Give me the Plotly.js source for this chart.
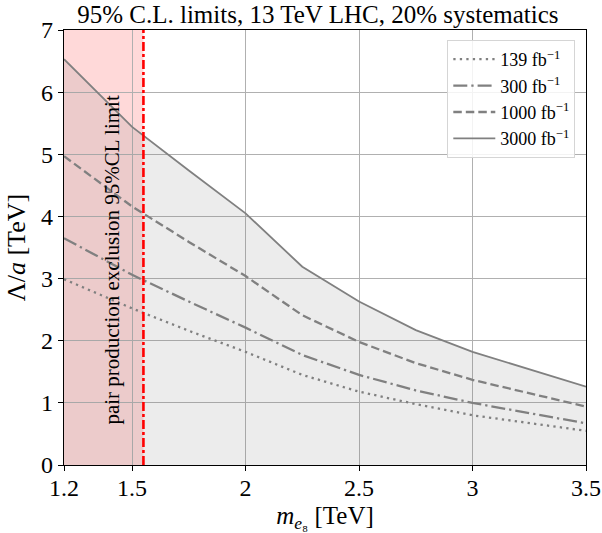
<!DOCTYPE html>
<html>
<head>
<meta charset="utf-8">
<script src="https://cdn.plot.ly/plotly-3.0.1.min.js"></script>
<style>html,body{margin:0;padding:0;background:#fff;}#chart{width:602px;height:533px;}</style>
</head>
<body>
<div id="chart"></div>
<script>
const massTeV = [1.2, 1.5, 1.75, 2.0, 2.25, 2.5, 2.75, 3.0, 3.5];
const lim139 = [2.99, 2.52, 2.16, 1.82, 1.45, 1.18, 0.98, 0.80, 0.55];
const lim300 = [3.65, 3.06, 2.63, 2.21, 1.77, 1.45, 1.20, 1.00, 0.67];
const lim1000 = [4.97, 4.16, 3.59, 3.04, 2.41, 1.98, 1.64, 1.37, 0.94];
const lim3000 = [6.53, 5.44, 4.74, 4.05, 3.19, 2.63, 2.17, 1.82, 1.26];
const seriesNames = ['139 fb<sup>−1</sup>', '300 fb<sup>−1</sup>', '1000 fb<sup>−1</sup>', '3000 fb<sup>−1</sup>'];
const pairLimit = 1.55;
const xTicks = [1.2, 1.5, 2, 2.5, 3, 3.5];
const xTickText = ['1.2', '1.5', '2', '2.5', '3', '3.5'];
const yTicks = [0, 1, 2, 3, 4, 5, 6, 7];

const serif = 'Liberation Serif, DejaVu Serif, serif';
const gray = '#808080';
const lw = 2.3;

const traces = [
  {x: massTeV, y: lim3000, mode: 'lines', fill: 'tozeroy', fillcolor: 'rgba(128,128,128,0.15)',
   line: {width: 0}, showlegend: false, hoverinfo: 'skip'},
  {x: massTeV, y: lim139, mode: 'lines', name: seriesNames[0], line: {color: gray, width: lw, dash: '2.3px,4.2px'}},
  {x: massTeV, y: lim300, mode: 'lines', name: seriesNames[1], line: {color: gray, width: lw, dash: '14px,4px,2.3px,4px'}},
  {x: massTeV, y: lim1000, mode: 'lines', name: seriesNames[2], line: {color: gray, width: lw, dash: '8.5px,4px'}},
  {x: massTeV, y: lim3000, mode: 'lines', name: seriesNames[3], line: {color: gray, width: 1.8}}
];

const axisCommon = {
  showline: true, mirror: true, linecolor: '#000', linewidth: 1.2,
  ticks: 'outside', ticklen: 5, tickwidth: 1, tickcolor: '#000',
  showgrid: true, gridcolor: '#b0b0b0', gridwidth: 1, zeroline: false,
  tickfont: {family: serif, size: 24, color: '#000'}
};

const layout = {
  width: 602, height: 533,
  margin: {l: 64, r: 16, t: 30, b: 68},
  paper_bgcolor: '#fff', plot_bgcolor: '#fff',
  title: {text: '95% C.L. limits, 13 TeV LHC, 20% systematics', x: 0.528, xanchor: 'center', y: 0.974, yanchor: 'middle',
          font: {family: serif, size: 25, color: '#000'}},
  xaxis: Object.assign({}, axisCommon, {range: [1.2, 3.5], tickvals: xTicks, ticktext: xTickText, ticklabelstandoff: -4,
    title: {text: '<i>m</i><sub><i>e</i>₈</sub> [TeV]', standoff: 8, font: {family: serif, size: 25, color: '#000'}}}),
  yaxis: Object.assign({}, axisCommon, {range: [0, 7], tickvals: yTicks,
    title: {text: 'Λ/<i>a</i> [TeV]', standoff: 8, font: {family: serif, size: 26, color: '#000'}}}),
  legend: {x: 0.9795, xanchor: 'right', y: 0.977, yanchor: 'top', bgcolor: 'rgba(255,255,255,0.85)',
           bordercolor: '#d5d5d5', borderwidth: 1, font: {family: serif, size: 18, color: '#000'},
           tracegroupgap: 0, itemwidth: 42},
  shapes: [
    {type: 'rect', xref: 'x', yref: 'paper', x0: 1.2, x1: pairLimit, y0: 0, y1: 1,
     fillcolor: 'rgba(255,0,0,0.15)', line: {width: 0}, layer: 'below'},
    {type: 'line', xref: 'x', yref: 'paper', x0: pairLimit, x1: pairLimit, y0: 0, y1: 1,
     line: {color: '#ff0000', width: 2.6, dash: '9px,3px,3px,3px'}, layer: 'above'}
  ],
  annotations: [
    {text: 'pair production exclusion 95%CL limit', xref: 'x', yref: 'y', x: 1.41, y: 3.3,
     showarrow: false, textangle: -90, font: {family: serif, size: 21, color: '#000'}}
  ]
};

Plotly.newPlot('chart', traces, layout, {displayModeBar: false, staticPlot: true});
</script>
</body>
</html>
